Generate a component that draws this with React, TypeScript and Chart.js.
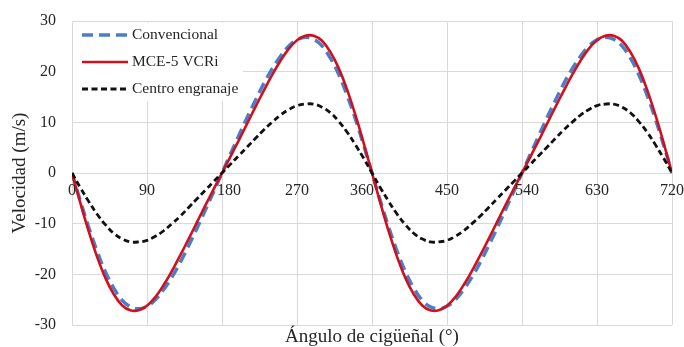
import React, { useEffect, useRef } from "react";
import { Chart, registerables } from "chart.js";

Chart.register(...registerables);

const angles = [
  0, 10, 20, 30, 40, 50, 60, 70, 80, 90, 100, 110, 120, 130, 140, 150, 160, 170,
  180, 190, 200, 210, 220, 230, 240, 250, 260, 270, 280, 290, 300, 310, 320, 330, 340, 350,
  360, 370, 380, 390, 400, 410, 420, 430, 440, 450, 460, 470, 480, 490, 500, 510, 520, 530,
  540, 550, 560, 570, 580, 590, 600, 610, 620, 630, 640, 650, 660, 670, 680, 690, 700, 710, 720,
];

const convencional = [
  0, -5.5, -10.7, -15.4, -19.5, -22.7, -25.1, -26.4, -26.8, -26.3, -25.0, -23.0, -20.5, -17.6, -14.3, -10.9, -7.3, -3.7,
  0, 3.7, 7.3, 10.9, 14.3, 17.6, 20.5, 23.0, 25.0, 26.3, 26.8, 26.4, 25.1, 22.7, 19.5, 15.4, 10.7, 5.5,
  0, -5.5, -10.7, -15.4, -19.5, -22.7, -25.1, -26.4, -26.8, -26.3, -25.0, -23.0, -20.5, -17.6, -14.3, -10.9, -7.3, -3.7,
  0, 3.7, 7.3, 10.9, 14.3, 17.6, 20.5, 23.0, 25.0, 26.3, 26.8, 26.4, 25.1, 22.7, 19.5, 15.4, 10.7, 5.5, 0,
];

const mce5 = [
  0, -5.9, -11.5, -16.5, -20.7, -23.9, -26.1, -27.1, -27.1, -26.2, -24.5, -22.1, -19.3, -16.2, -13.0, -9.7, -6.4, -3.2,
  0, 3.2, 6.4, 9.7, 13.0, 16.2, 19.3, 22.1, 24.5, 26.2, 27.1, 27.1, 26.1, 23.9, 20.7, 16.5, 11.5, 5.9,
  0, -5.9, -11.5, -16.5, -20.7, -23.9, -26.1, -27.1, -27.1, -26.2, -24.5, -22.1, -19.3, -16.2, -13.0, -9.7, -6.4, -3.2,
  0, 3.2, 6.4, 9.7, 13.0, 16.2, 19.3, 22.1, 24.5, 26.2, 27.1, 27.1, 26.1, 23.9, 20.7, 16.5, 11.5, 5.9, 0,
];

const centro = [
  0, -2.9, -5.6, -8.1, -10.2, -11.9, -13.0, -13.6, -13.6, -13.3, -12.5, -11.4, -10.0, -8.5, -6.8, -5.1, -3.4, -1.7,
  0, 1.7, 3.4, 5.1, 6.8, 8.5, 10.0, 11.4, 12.5, 13.3, 13.6, 13.6, 13.0, 11.9, 10.2, 8.1, 5.6, 2.9,
  0, -2.9, -5.6, -8.1, -10.2, -11.9, -13.0, -13.6, -13.6, -13.3, -12.5, -11.4, -10.0, -8.5, -6.8, -5.1, -3.4, -1.7,
  0, 1.7, 3.4, 5.1, 6.8, 8.5, 10.0, 11.4, 12.5, 13.3, 13.6, 13.6, 13.0, 11.9, 10.2, 8.1, 5.6, 2.9, 0,
];

const xTickValues = [0, 90, 180, 270, 360, 450, 540, 630, 720];
const seriesNames = ["Convencional", "MCE-5 VCRi", "Centro engranaje"];
const xTitle = "Ángulo de cigüeñal (°)";
const yTitle = "Velocidad (m/s)";

const FONT = "'Liberation Serif', 'Times New Roman', serif";
const TEXT = "#262626";
const GRID = "#d9d9d9";

// horizontal nudges of some x tick labels (pixels), as in the reference
const xLabelNudge: Record<number, number> = { 180: 7, 360: -10, 540: 5 };

const styles = [
  { color: "#4a7ec8", width: 3.5, dash: [11, 6] },
  { color: "#d0101c", width: 2.6, dash: [] as number[] },
  { color: "#111111", width: 2.8, dash: [6, 3.5] },
];

const toPoints = (ys: number[]) => angles.map((x, i) => ({ x, y: ys[i] }));

const overlayPlugin = {
  id: "overlay",
  afterDraw(chart: any) {
    const { ctx, chartArea } = chart;
    const xs = chart.scales.x;
    const ys = chart.scales.y;
    ctx.save();
    // x tick labels along the zero line
    ctx.font = `16px ${FONT}`;
    ctx.fillStyle = TEXT;
    ctx.textAlign = "center";
    ctx.textBaseline = "middle";
    const y0 = ys.getPixelForValue(0);
    xTickValues.forEach((v) => {
      ctx.fillText(String(v), xs.getPixelForValue(v) + (xLabelNudge[v] || 0), y0 + 18);
    });
    // legend box
    ctx.fillStyle = "#ffffff";
    ctx.fillRect(chartArea.left + 1, chartArea.top + 2, 170, 78);
    const rows = [35, 62, 89];
    seriesNames.forEach((name, i) => {
      const s = styles[i];
      ctx.strokeStyle = s.color;
      ctx.lineWidth = s.width;
      ctx.setLineDash(s.dash);
      ctx.beginPath();
      ctx.moveTo(82, rows[i]);
      ctx.lineTo(128, rows[i]);
      ctx.stroke();
      ctx.setLineDash([]);
      ctx.fillStyle = TEXT;
      ctx.font = `15.5px ${FONT}`;
      ctx.textBaseline = "middle";
      ctx.textAlign = "left";
      ctx.fillText(name, 132, rows[i]);
    });
    // x title
    ctx.font = `19px ${FONT}`;
    ctx.textAlign = "center";
    ctx.textBaseline = "middle";
    ctx.fillStyle = TEXT;
    ctx.fillText(xTitle, (chartArea.left + chartArea.right) / 2, 337);
    ctx.restore();
  },
};

export default function App() {
  const ref = useRef<HTMLCanvasElement>(null);
  useEffect(() => {
    if (!ref.current) return;
    const common = { pointRadius: 0, tension: 0.4, fill: false };
    const chart = new Chart(ref.current, {
      type: "line",
      data: {
        datasets: [
          {
            ...common,
            label: seriesNames[0],
            data: toPoints(convencional),
            borderColor: styles[0].color,
            borderWidth: styles[0].width,
            borderDash: styles[0].dash,
            order: 3,
          },
          {
            ...common,
            label: seriesNames[1],
            data: toPoints(mce5),
            borderColor: styles[1].color,
            borderWidth: styles[1].width,
            order: 2,
          },
          {
            ...common,
            label: seriesNames[2],
            data: toPoints(centro),
            borderColor: styles[2].color,
            borderWidth: styles[2].width,
            borderDash: styles[2].dash,
            order: 1,
          },
        ],
      },
      options: {
        responsive: false,
        animation: false,
        layout: { padding: { top: 21, right: 12, bottom: 22, left: 0 } },
        plugins: { legend: { display: false }, tooltip: { enabled: false } },
        scales: {
          x: {
            type: "linear",
            position: { y: 0 } as any,
            min: 0,
            max: 720,
            ticks: { stepSize: 90, display: false },
            grid: { color: GRID, drawTicks: false, lineWidth: 1 },
            border: { display: false },
            afterFit: (scale: any) => {
              scale.paddingLeft = 0;
              scale.paddingRight = 0;
            },
          },
          y: {
            min: -30,
            max: 30,
            ticks: {
              stepSize: 10,
              padding: 16,
              color: TEXT,
              font: { family: FONT, size: 16 },
            },
            grid: { color: GRID, drawTicks: false, lineWidth: 1 },
            border: { display: false },
            title: {
              display: true,
              text: yTitle,
              color: TEXT,
              font: { family: FONT, size: 19 },
              padding: { top: 9, bottom: 0 },
            },
            afterFit: (scale: any) => {
              scale.width = 72;
              scale.paddingTop = 0;
              scale.paddingBottom = 0;
            },
          },
        },
      },
      plugins: [overlayPlugin],
    });
    return () => chart.destroy();
  }, []);
  return (
    <div style={{ position: "absolute", left: 0, top: 0, width: 684, height: 347, background: "#fff" }}>
      <canvas ref={ref} width={684} height={347} style={{ width: 684, height: 347 }} />
    </div>
  );
}
